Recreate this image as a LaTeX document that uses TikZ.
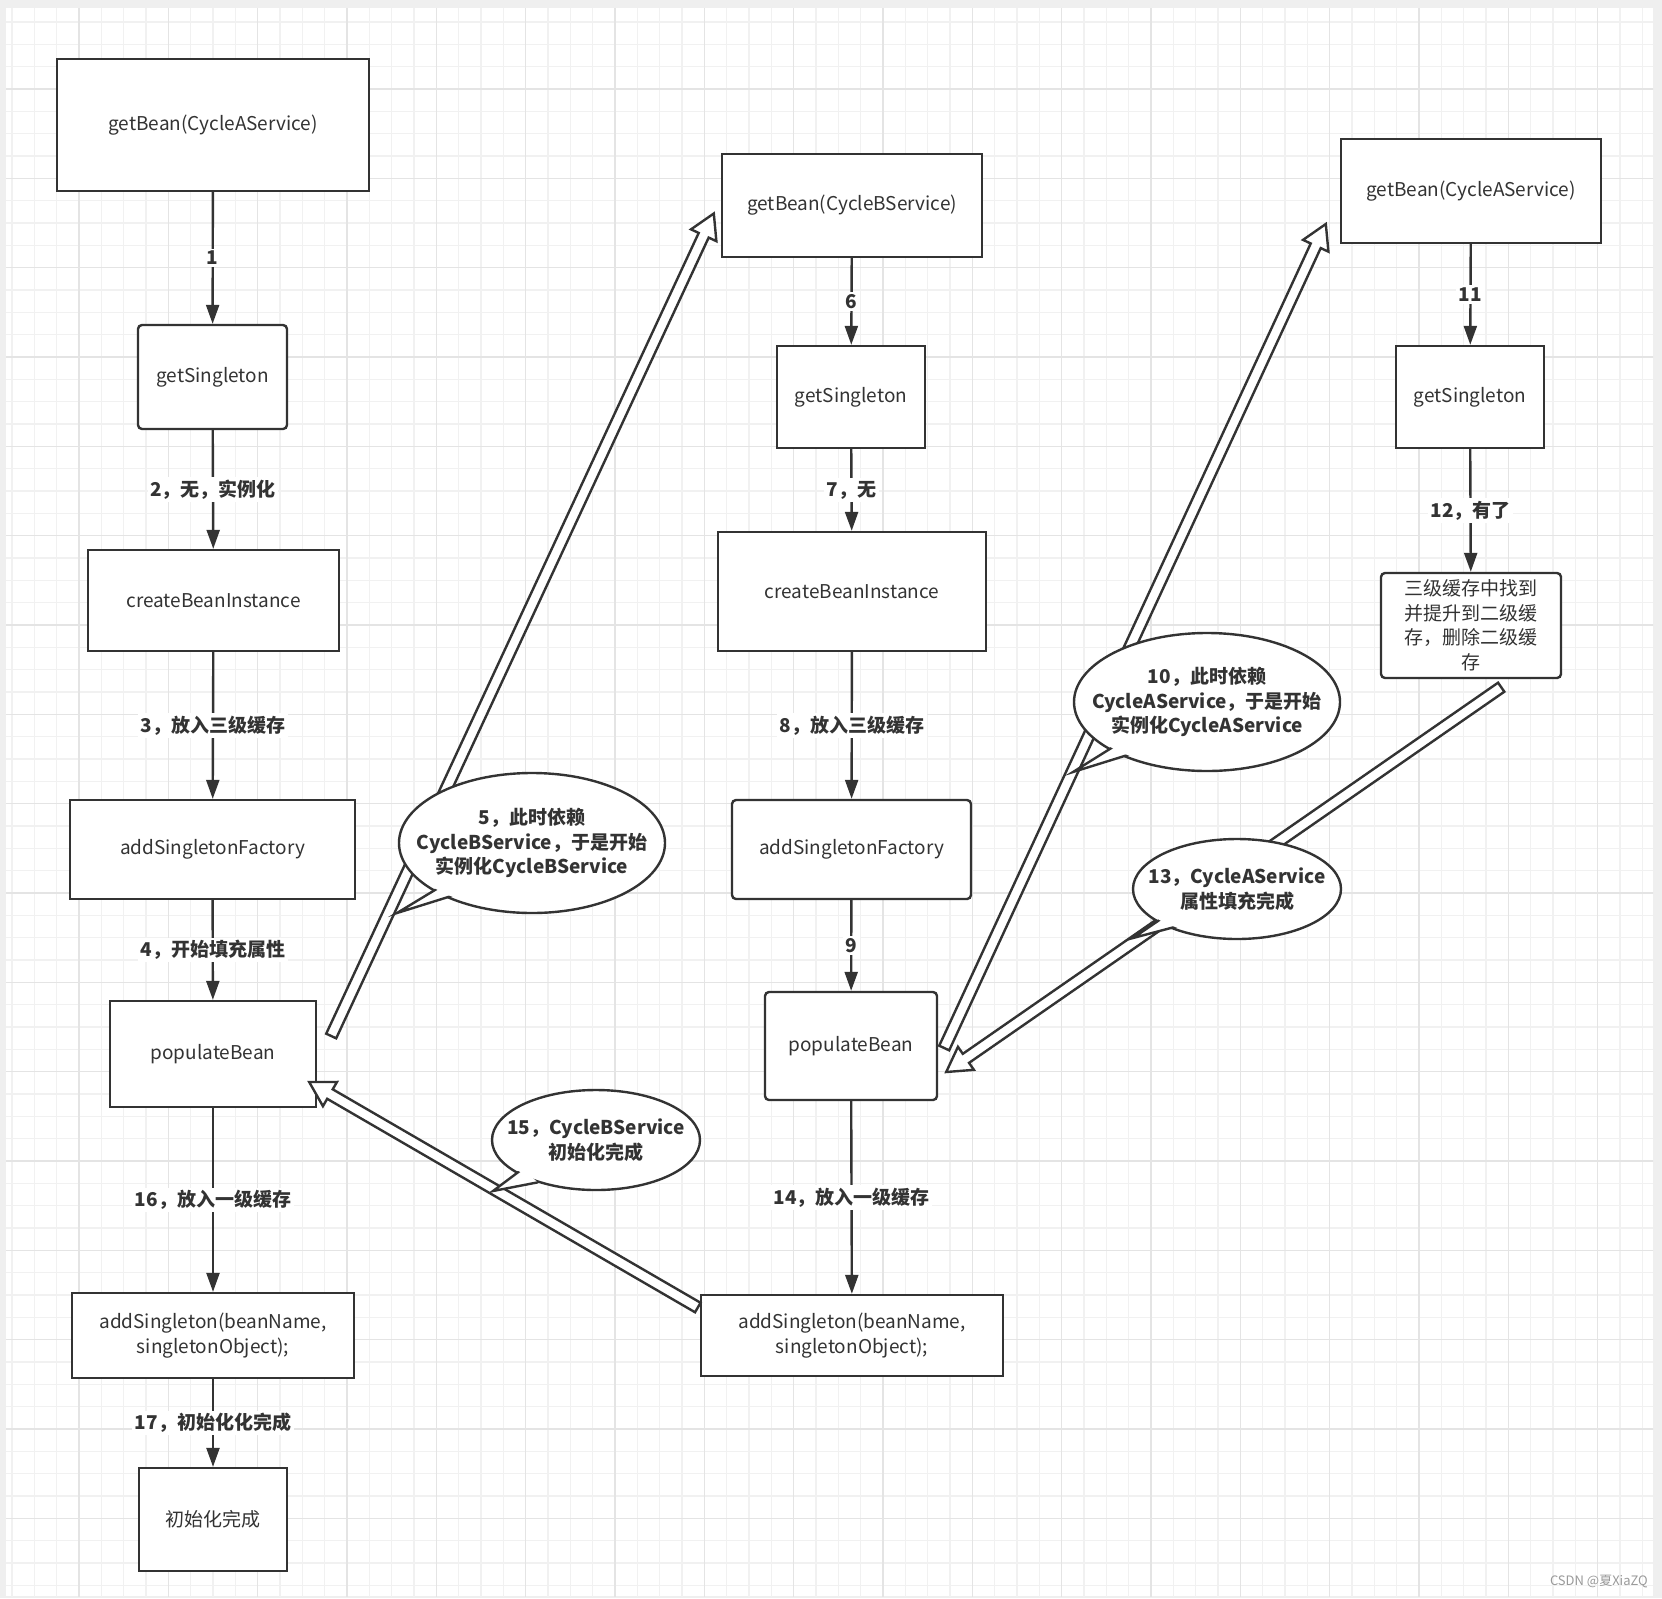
\documentclass[tikz,border=0pt]{standalone}
\usepackage{fontspec}
\setmainfont{Noto Sans CJK SC}
\usetikzlibrary{arrows.meta,calc}
\definecolor{ink}{HTML}{333333}
\definecolor{outerbg}{HTML}{EFEFEF}
\definecolor{gridminor}{HTML}{F1F1F1}
\definecolor{gridmajor}{HTML}{E4E4E4}
\definecolor{wmark}{HTML}{9A9A9A}
\newcommand{\hollowarrow}[2]{%
  \coordinate (ha-n) at ($(#2)!24pt!(#1)$);
  \filldraw[harrow] ($(#1)!5.5pt!-90:(#2)$) -- ($(ha-n)!5.5pt!90:(#1)$) -- ($(ha-n)!14pt!90:(#1)$) -- (#2) -- ($(ha-n)!14pt!-90:(#1)$) -- ($(ha-n)!5.5pt!-90:(#1)$) -- ($(#1)!5.5pt!90:(#2)$) -- cycle;
}
% #1 center, #2 rx, #3 ry, #4 tip, #5 base1, #6 base2, #7 text
\newcommand{\calloutbubble}[7]{%
  \filldraw[bubble] (#1) ellipse [x radius=#2pt, y radius=#3pt];
  \filldraw[bubble] ($(#4)!1.45!(#5)$) -- (#4) -- ($(#4)!1.45!(#6)$);
  \fill[white] (#1) ellipse [x radius={(#2-2.2)*1pt}, y radius={(#3-2.2)*1pt}];
  \node[bubbletext] at (#1) {#7};
}
\begin{document}
\begin{tikzpicture}[x=1pt,y=-1pt,
  box/.style={draw=ink, line width=2.4pt, fill=white, text=ink, align=center,
    font=\fontsize{19}{24.5}\selectfont, inner sep=0pt},
  rbox/.style={box, rounded corners=4pt},
  conn/.style={draw=ink, line width=2.4pt, -{Triangle[length=19pt,width=13pt]}},
  elabel/.style={fill=white, text=ink, inner sep=2.5pt, font=\fontsize{19}{24}\selectfont\bfseries},
  harrow/.style={draw=ink, line width=2.4pt, fill=white, line join=miter},
  bubble/.style={draw=ink, line width=2.4pt, fill=white},
  bubbletext/.style={text=ink, align=center, font=\fontsize{19}{24.5}\selectfont\bfseries}
]
% background
\fill[outerbg] (0,0) rectangle (1662,1598);
\useasboundingbox (0,0) rectangle (1662,1598);
\fill[white] (6,8) rectangle (1653,1596);
\begin{scope}
  \clip (6,8) rectangle (1653,1596);
  \foreach \i in {0,...,74} {\draw[gridminor, line width=1.2pt] ({12+22.333*\i},0) -- ++(0,1598);}
  \foreach \i in {0,...,72} {\draw[gridminor, line width=1.2pt] (0,{22+22.333*\i}) -- ++(1662,0);}
  \foreach \i in {-1,...,18} {\draw[gridmajor, line width=1.5pt] ({79+89.333*\i},0) -- ++(0,1598);}
  \foreach \i in {-1,...,18} {\draw[gridmajor, line width=1.5pt] (0,{89+89.333*\i}) -- ++(1662,0);}
\end{scope}

% column A
\node[box, minimum width=312pt, minimum height=132pt] (gA) at (213,125) {getBean(CycleAService)};
\node[rbox, minimum width=149pt, minimum height=104pt] (sA) at (212.5,377) {getSingleton};
\node[box, minimum width=251pt, minimum height=101pt] (cA) at (213.5,600.5) {createBeanInstance};
\node[box, minimum width=285pt, minimum height=99pt] (fA) at (212.5,849.5) {addSingletonFactory};
\node[box, minimum width=206pt, minimum height=106pt] (pA) at (213,1054) {populateBean};
\node[box, minimum width=282pt, minimum height=85pt] (aA) at (213,1335.5) {addSingleton(beanName,\\singletonObject);};
\node[box, minimum width=148pt, minimum height=103pt] (iA) at (213,1519.5) {初始化完成};

% column B
\node[box, minimum width=260pt, minimum height=103pt] (gB) at (852,205.5) {getBean(CycleBService)};
\node[box, minimum width=148pt, minimum height=102pt] (sB) at (851,397) {getSingleton};
\node[box, minimum width=268pt, minimum height=119pt] (cB) at (852,591.5) {createBeanInstance};
\node[rbox, minimum width=239pt, minimum height=99pt] (fB) at (851.5,849.5) {addSingletonFactory};
\node[rbox, minimum width=172pt, minimum height=108pt] (pB) at (851,1046) {populateBean};
\node[box, minimum width=302pt, minimum height=81pt] (aB) at (852,1335.5) {addSingleton(beanName,\\singletonObject);};

% column C
\node[box, minimum width=260pt, minimum height=104pt] (gC) at (1471,191) {getBean(CycleAService)};
\node[box, minimum width=148pt, minimum height=102pt] (sC) at (1470,397) {getSingleton};
\node[rbox, minimum width=180pt, minimum height=105pt] (tC) at (1471,625.5) {三级缓存中找到\\并提升到二级缓\\存，删除二级缓\\存};

% straight connectors
\draw[conn] (gA) -- node[elabel]{1} (sA);
\draw[conn] (sA) -- node[elabel]{2，无，实例化} (cA);
\draw[conn] (cA) -- node[elabel]{3，放入三级缓存} (fA);
\draw[conn] (fA) -- node[elabel]{4，开始填充属性} (pA);
\draw[conn] (pA) -- node[elabel]{16，放入一级缓存} (aA);
\draw[conn] (aA) -- node[elabel]{17，初始化化完成} (iA);
\draw[conn] (gB) -- node[elabel]{6} (sB);
\draw[conn] (sB) -- node[elabel]{7，无} (cB);
\draw[conn] (cB) -- node[elabel]{8，放入三级缓存} (fB);
\draw[conn] (fB) -- node[elabel]{9} (pB);
\draw[conn] (pB) -- node[elabel]{14，放入一级缓存} (aB);
\draw[conn] (gC) -- node[elabel]{11} (sC);
\draw[conn] (sC) -- node[elabel]{12，有了} (tC);

% hollow arrows
\coordinate (h1s) at ($(pA.east)+(14,-18)$);
\coordinate (h1e) at ($(gB.west)+(-7,8)$);
\hollowarrow{h1s}{h1e}
\coordinate (h2s) at ($(pB.east)+(6,2)$);
\coordinate (h2e) at ($(gC.west)+(-14,33)$);
\hollowarrow{h2s}{h2e}
\coordinate (h3s) at ($(tC.south east)+(-61,8)$);
\coordinate (h3e) at ($(pB.east)+(8,26)$);
\hollowarrow{h3s}{h3e}
\coordinate (h4s) at ($(aB.west)+(-2,-28)$);
\coordinate (h4e) at ($(pA.east)+(-8,28)$);
\hollowarrow{h4s}{h4e}

% callouts
\coordinate (k5) at (532,843);
\coordinate (k5t) at (397,913);
\coordinate (k5a) at (430,893);
\coordinate (k5b) at (445,898);
\calloutbubble{k5}{133}{70}{k5t}{k5a}{k5b}{5，此时依赖\\CycleBService，于是开始\\实例化CycleBService}
\coordinate (k10) at (1207,702);
\coordinate (k10t) at (1073,772);
\coordinate (k10a) at (1105,752);
\coordinate (k10b) at (1118,758);
\calloutbubble{k10}{133}{69}{k10t}{k10a}{k10b}{10，此时依赖\\CycleAService，于是开始\\实例化CycleAService}
\coordinate (k13) at (1237,889);
\coordinate (k13t) at (1133,938);
\coordinate (k13a) at (1155,923);
\coordinate (k13b) at (1167,929);
\calloutbubble{k13}{104}{50}{k13t}{k13a}{k13b}{13，CycleAService\\属性填充完成}
\coordinate (k15) at (596,1140);
\coordinate (k15t) at (493,1191);
\coordinate (k15a) at (513,1176);
\coordinate (k15b) at (524,1185);
\calloutbubble{k15}{104}{50}{k15t}{k15a}{k15b}{15，CycleBService\\初始化完成}

% watermark
\node[text=wmark, font=\fontsize{13}{15}\selectfont, anchor=east, inner sep=0pt] (wm) at (1648,1582) {CSDN @夏XiaZQ};
\end{tikzpicture}
\end{document}
